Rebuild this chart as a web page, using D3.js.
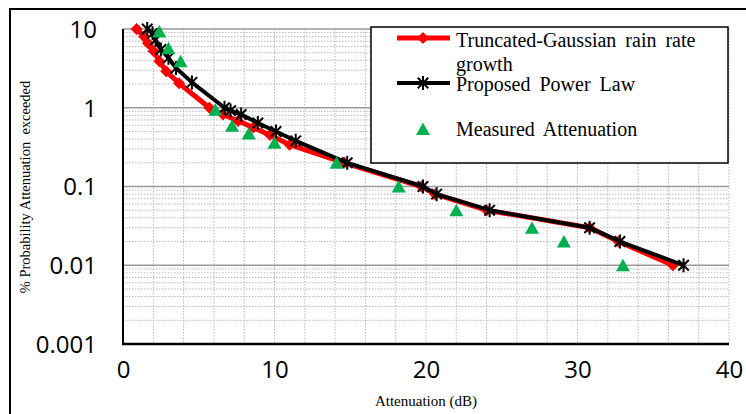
<!DOCTYPE html>
<html><head><meta charset="utf-8">
<script src="https://cdn.jsdelivr.net/npm/d3@7"></script>
<style>body{margin:0;background:#fff} svg{display:block}</style>
</head><body><svg id="c" width="746" height="414"></svg>
<script>
const seriesNames = ["Truncated-Gaussian rain rate", "growth", "Proposed Power Law", "Measured Attenuation"];
const truncAtt  = [0.9, 1.4, 1.65, 2.0, 2.4, 2.85, 3.7, 5.7, 6.6, 7.6, 8.6, 9.7, 11.0, 14.6, 19.7, 20.6, 24.0, 30.8, 32.7, 36.3];
const truncProb = [10, 8, 6.6, 5.3, 3.9, 2.9, 2.05, 1, 0.82, 0.68, 0.56, 0.45, 0.34, 0.2, 0.1, 0.08, 0.05, 0.03, 0.02, 0.01];
const powerAtt  = [1.6, 1.95, 2.15, 2.5, 3.0, 3.5, 4.55, 6.7, 7.1, 7.8, 8.9, 10.1, 11.4, 14.8, 19.8, 20.7, 24.2, 30.8, 32.8, 37.0];
const powerProb = [10, 8.8, 7.3, 5.5, 4.3, 3.2, 2.1, 1, 0.92, 0.82, 0.64, 0.5, 0.38, 0.2, 0.1, 0.08, 0.05, 0.03, 0.02, 0.01];
const measAtt   = [2.4, 3.0, 3.8, 6.1, 7.2, 8.3, 10.0, 14.1, 18.2, 22.0, 27.0, 29.1, 33.0];
const measProb  = [9.3, 5.7, 3.9, 0.94, 0.59, 0.47, 0.36, 0.2, 0.1, 0.05, 0.03, 0.02, 0.01];
const xTicks = [0, 10, 20, 30, 40];
const yTicks = [10, 1, 0.1, 0.01, 0.001];
const yTickLabels = ["10", "1", "0.1", "0.01", "0.001"];
const xTitle = "Attenuation (dB)";
const yTitle = "% Probability Attenuation  exceeded";

const svg = d3.select("#c");
const L = 123, R = 729, T = 29, B = 344;
const x = d3.scaleLinear().domain([0, 40]).range([L, R]);
const y = d3.scaleLog().domain([0.001, 10]).range([B, T]);

// outer frame
svg.append("rect").attr("x", 10).attr("y", 9).attr("width", 760).attr("height", 430)
  .attr("fill", "none").attr("stroke", "#000").attr("stroke-width", 2);

const grid = svg.append("g");
const minors = [];
[0.001, 0.01, 0.1, 1].forEach(d => { for (let k = 2; k <= 9; k++) minors.push(d * k); });
grid.selectAll(".mh").data(minors).enter().append("line")
  .attr("x1", L).attr("x2", R).attr("y1", d => y(d)).attr("y2", d => y(d))
  .attr("stroke", "#b8b8b8").attr("stroke-width", 1).attr("stroke-dasharray", "1.5,1.5");
grid.selectAll(".mv").data(d3.range(2, 41, 2)).enter().append("line")
  .attr("x1", d => x(d)).attr("x2", d => x(d)).attr("y1", T).attr("y2", B)
  .attr("stroke", "#b8b8b8").attr("stroke-width", 1).attr("stroke-dasharray", "1.5,1.5");
grid.selectAll(".Mh").data(yTicks.slice(0, 4)).enter().append("line")
  .attr("x1", L).attr("x2", R).attr("y1", d => y(d)).attr("y2", d => y(d))
  .attr("stroke", "#9a9a9a").attr("stroke-width", 1.5);

svg.append("line").attr("x1", L).attr("x2", L).attr("y1", T).attr("y2", B + 1)
  .attr("stroke", "#000").attr("stroke-width", 2);
svg.append("line").attr("x1", L - 1).attr("x2", R).attr("y1", B).attr("y2", B)
  .attr("stroke", "#000").attr("stroke-width", 2.5);

const yAxis = d3.axisLeft(y).tickValues(yTicks).tickFormat((d, i) => yTickLabels[i]).tickSize(0).tickPadding(0);
const ya = svg.append("g").attr("transform", `translate(97,0)`).call(yAxis);
ya.select(".domain").remove();
ya.selectAll("text").attr("font-family", "Open Sans").attr("font-size", 24).attr("fill", "#000").attr("dy", "0.35em");

const xAxis = d3.axisBottom(x).tickValues(xTicks).tickFormat(d3.format("d")).tickSize(0).tickPadding(0);
const xa = svg.append("g").attr("transform", `translate(0,370)`).call(xAxis);
xa.select(".domain").remove();
xa.selectAll("text").attr("font-family", "Open Sans").attr("font-size", 24).attr("fill", "#000").attr("dy", "0.35em");

svg.append("text").attr("x", 426).attr("y", 406).attr("text-anchor", "middle")
  .attr("font-family", "Liberation Serif").attr("font-size", 15).text(xTitle);
svg.append("text").attr("transform", "translate(30,187) rotate(-90)").attr("text-anchor", "middle")
  .attr("font-family", "Liberation Serif").attr("font-size", 14.5)
  .style("white-space", "pre").text(yTitle);

const diamond = "M0,-6L6,0L0,6L-6,0Z";
const star = r => `M0,${-r}L0,${r}M${-r*0.75},${-r*0.75}L${r*0.75},${r*0.75}M${-r*0.75},${r*0.75}L${r*0.75},${-r*0.75}`;
const tri = "M0,-6.5L7,6L-7,6Z";

const truncData = truncAtt.map((a, i) => [a, truncProb[i]]);
const powerData = powerAtt.map((a, i) => [a, powerProb[i]]);
const measData = measAtt.map((a, i) => [a, measProb[i]]);
const line = d3.line().x(d => x(d[0])).y(d => y(d[1]));

svg.append("path").datum(truncData).attr("d", line).attr("fill", "none")
  .attr("stroke", "#ff0000").attr("stroke-width", 5).attr("stroke-linejoin", "round");
svg.selectAll(".dm").data(truncData).enter().append("path")
  .attr("transform", d => `translate(${x(d[0])},${y(d[1])})`).attr("d", diamond).attr("fill", "#ff0000");

svg.append("path").datum(powerData).attr("d", line).attr("fill", "none")
  .attr("stroke", "#000").attr("stroke-width", 4).attr("stroke-linejoin", "round");
svg.selectAll(".st").data(powerData).enter().append("path")
  .attr("transform", d => `translate(${x(d[0])},${y(d[1])})`).attr("d", star(7))
  .attr("fill", "none").attr("stroke", "#000").attr("stroke-width", 2);

svg.selectAll(".tr").data(measData).enter().append("path")
  .attr("transform", d => `translate(${x(d[0])},${y(d[1])})`).attr("d", tri).attr("fill", "#00b050");

const lg = svg.append("g");
lg.append("rect").attr("x", 371).attr("y", 27).attr("width", 357).attr("height", 136)
  .attr("fill", "#fff").attr("stroke", "#000").attr("stroke-width", 1.5);
lg.append("line").attr("x1", 397).attr("x2", 450).attr("y1", 38).attr("y2", 38).attr("stroke", "#ff0000").attr("stroke-width", 5);
lg.append("path").attr("transform", "translate(423,38)").attr("d", diamond).attr("fill", "#ff0000");
lg.append("line").attr("x1", 397).attr("x2", 450).attr("y1", 83).attr("y2", 83).attr("stroke", "#000").attr("stroke-width", 4);
lg.append("path").attr("transform", "translate(423,83)").attr("d", star(7)).attr("fill", "none").attr("stroke", "#000").attr("stroke-width", 2);
lg.append("path").attr("transform", "translate(423,129)").attr("d", tri).attr("fill", "#00b050");
const lt = [[seriesNames[0], 46.5], [seriesNames[1], 70.5], [seriesNames[2], 90.5], [seriesNames[3], 136]];
lg.selectAll(".lt").data(lt).enter().append("text")
  .attr("x", 456).attr("y", d => d[1]).attr("font-family", "Liberation Serif").attr("font-size", 20)
  .attr("word-spacing", 4).text(d => d[0]);
</script></body></html>
